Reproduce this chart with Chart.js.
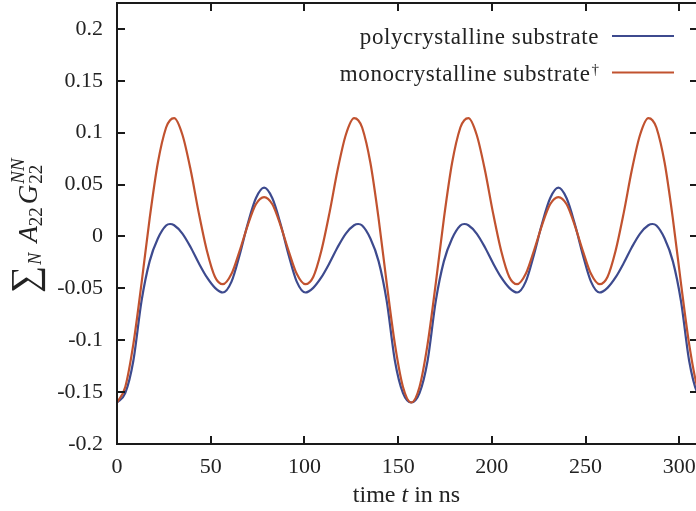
<!DOCTYPE html>
<html><head><meta charset="utf-8">
<script src="https://cdn.jsdelivr.net/npm/chart.js@4.4.1/dist/chart.umd.min.js"></script>
<style>
html,body{margin:0;padding:0;background:#fff;overflow:hidden;width:696px;height:511px;}
#wrap{position:absolute;left:0;top:0;width:720px;height:511px;}
</style></head><body>
<div id="wrap"><canvas id="c"></canvas></div>
<script>
// ---- data ----
const timeNs = [0,4.4,8.7,13.1,17.4,21.8,26.2,28.3,30.5,34.9,39.3,43.6,48.0,52.3,56.5,61.1,65.4,69.8,74.1,78.5,
  82.9,87.2,91.6,95.9,100.5,104.7,109.0,113.4,117.7,122.1,126.5,128.7,130.8,135.2,139.6,143.9,148.3,152.6,157,
  161.4,165.7,170.1,174.4,178.8,183.2,185.3,187.5,191.9,196.3,200.6,205.0,209.3,213.5,218.1,222.4,226.8,231.1,235.5,
  239.9,244.2,248.6,252.9,257.5,261.7,266.0,270.4,274.7,279.1,283.5,285.7,287.8,292.2,296.6,300.9,305.3,309.6,314];
const polycrystalline = [-0.160,-0.151,-0.120,-0.062,-0.024,-0.002,0.0105,0.012,0.0108,0.0028,-0.0104,-0.0256,-0.0395,-0.0495,-0.054,-0.0435,-0.018,0.0125,0.0368,0.047,
  0.0368,0.0125,-0.018,-0.0435,-0.054,-0.0495,-0.0395,-0.0256,-0.0104,0.0028,0.0108,0.012,0.0105,-0.002,-0.024,-0.062,-0.120,-0.151,-0.160,
  -0.151,-0.120,-0.062,-0.024,-0.002,0.0105,0.012,0.0108,0.0028,-0.0104,-0.0256,-0.0395,-0.0495,-0.054,-0.0435,-0.018,0.0125,0.0368,0.047,
  0.0368,0.0125,-0.018,-0.0435,-0.054,-0.0495,-0.0395,-0.0256,-0.0104,0.0028,0.0108,0.012,0.0105,-0.002,-0.024,-0.062,-0.120,-0.151,-0.160];
const monocrystalline = [-0.160,-0.145,-0.104,-0.045,0.017,0.071,0.105,0.112,0.114,0.098,0.064,0.023,-0.014,-0.039,-0.046,-0.036,-0.014,0.011,0.031,0.038,
  0.031,0.011,-0.014,-0.036,-0.046,-0.039,-0.014,0.023,0.064,0.098,0.114,0.112,0.105,0.071,0.017,-0.045,-0.104,-0.145,-0.160,
  -0.145,-0.104,-0.045,0.017,0.071,0.105,0.112,0.114,0.098,0.064,0.023,-0.014,-0.039,-0.046,-0.036,-0.014,0.011,0.031,0.038,
  0.031,0.011,-0.014,-0.036,-0.046,-0.039,-0.014,0.023,0.064,0.098,0.114,0.112,0.105,0.071,0.017,-0.045,-0.104,-0.145,-0.160];
const seriesNames = ['polycrystalline substrate', 'monocrystalline substrate\u2020'];
const xTickValues = [0,50,100,150,200,250,300];
const xTickLabels = ['0','50','100','150','200','250','300'];
const yTickValues = [-0.2,-0.15,-0.1,-0.05,0,0.05,0.1,0.15,0.2];
const yTickLabels = ['-0.2','-0.15','-0.1','-0.05','0','0.05','0.1','0.15','0.2'];

// ---- styling ----
const FONT = '"Liberation Serif", "Times New Roman", serif';
const INK = '#222222';
const BLUE = '#3d4a8e';
const RED = '#c1522f';

const decor = {
  id: 'decor',
  afterDatasetsDraw(chart) {
    const {ctx, chartArea: a, scales: {x, y}} = chart;
    ctx.save();
    // frame
    ctx.strokeStyle = '#1a1a1a';
    ctx.lineWidth = 2;
    ctx.strokeRect(a.left, a.top, a.right - a.left, a.bottom - a.top);
    // inward ticks on all four sides
    const L = 8;
    ctx.beginPath();
    xTickValues.forEach(v => {
      const px = Math.round(x.getPixelForValue(v));
      ctx.moveTo(px, a.bottom); ctx.lineTo(px, a.bottom - L);
      ctx.moveTo(px, a.top); ctx.lineTo(px, a.top + L);
    });
    yTickValues.forEach(v => {
      const py = Math.round(y.getPixelForValue(v));
      ctx.moveTo(a.left, py); ctx.lineTo(a.left + L, py);
      ctx.moveTo(a.right, py); ctx.lineTo(a.right - L, py);
    });
    ctx.stroke();

    // legend (gnuplot style: text right-aligned, sample to the right)
    const rowY = [36, 72.5];
    chart.data.datasets.forEach((ds, i) => {
      const cy = rowY[i];
      let label = ds.label, dag = '';
      if (label.endsWith('\u2020')) { dag = '\u2020'; label = label.slice(0, -1); }
      let right = 599;
      ctx.fillStyle = INK;
      ctx.textBaseline = 'alphabetic';
      if (dag) {
        ctx.font = `15px ${FONT}`;
        const w = ctx.measureText(dag).width;
        ctx.textAlign = 'left';
        ctx.fillText(dag, right - w, cy + 1);
        right -= w + 1;
      }
      ctx.font = `23px ${FONT}`;
      ctx.textAlign = 'right';
      try { ctx.letterSpacing = '0.6px'; } catch (e) {}
      ctx.fillText(label, right, cy + 8);
      try { ctx.letterSpacing = '0px'; } catch (e) {}
      ctx.strokeStyle = ds.borderColor;
      ctx.lineWidth = 2;
      ctx.beginPath();
      ctx.moveTo(612, cy); ctx.lineTo(674, cy);
      ctx.stroke();
    });

    // x axis title: time t in ns
    ctx.fillStyle = INK;
    ctx.textBaseline = 'alphabetic';
    ctx.textAlign = 'left';
    const parts = [['time ', `24px ${FONT}`], ['t', `italic 24px ${FONT}`], [' in ns', `24px ${FONT}`]];
    let tw = 0;
    parts.forEach(p => { ctx.font = p[1]; tw += ctx.measureText(p[0]).width; });
    let xx = (a.left + a.right) / 2 - 1 - tw / 2;
    parts.forEach(p => { ctx.font = p[1]; ctx.fillText(p[0], xx, 502); xx += ctx.measureText(p[0]).width; });

    // y axis title: sum_N A_22 G_22^{NN}
    const items = [
      {t: '\u2211', f: `38px ${FONT}`, dy: 0, gap: 1},
      {t: 'N', f: `italic 18px ${FONT}`, dy: 4, gap: 10},
      {t: 'A', f: `italic 27px ${FONT}`, dy: 0},
      {t: '22', f: `19px ${FONT}`, dy: 5, gap: 3},
      {t: 'G', f: `italic 27px ${FONT}`, dy: 0, gap: 1},
      {t: 'NN', f: `italic 19px ${FONT}`, dy: -13, stackWith: {t: '22', f: `19px ${FONT}`, dy: 5}}
    ];
    let total = 0;
    items.forEach(it => {
      ctx.font = it.f; let w = ctx.measureText(it.t).width;
      if (it.stackWith) { ctx.font = it.stackWith.f; w = Math.max(w, ctx.measureText(it.stackWith.t).width); }
      it.w = w; total += w + (it.gap || 0);
    });
    ctx.translate(37, (a.top + a.bottom) / 2 + total / 2 + 2);
    ctx.rotate(-Math.PI / 2);
    let px = 0;
    items.forEach(it => {
      ctx.font = it.f; ctx.fillText(it.t, px, it.dy);
      if (it.stackWith) { ctx.font = it.stackWith.f; ctx.fillText(it.stackWith.t, px, it.stackWith.dy); }
      px += it.w + (it.gap || 0);
    });
    ctx.restore();
  }
};

new Chart(document.getElementById('c'), {
  type: 'line',
  data: {
    datasets: [
      {label: seriesNames[0], data: timeNs.map((t, i) => ({x: t, y: polycrystalline[i]})),
       borderColor: BLUE, borderWidth: 2.2, pointRadius: 0, cubicInterpolationMode: 'monotone', fill: false, order: 2},
      {label: seriesNames[1], data: timeNs.map((t, i) => ({x: t, y: monocrystalline[i]})),
       borderColor: RED, borderWidth: 2.2, pointRadius: 0, cubicInterpolationMode: 'monotone', fill: false, order: 1}
    ]
  },
  options: {
    responsive: true, maintainAspectRatio: false, animation: false, devicePixelRatio: 1,
    events: [],
    layout: {padding: {left: 0, right: 22, top: 3, bottom: 0}},
    plugins: {legend: {display: false}, tooltip: {enabled: false}},
    scales: {
      x: {
        type: 'linear', min: 0, max: 310,
        grid: {display: false, drawTicks: false}, border: {display: false},
        afterBuildTicks: s => { s.ticks = xTickValues.map(v => ({value: v})); },
        afterFit: s => { s.height = 67; s.paddingLeft = 0; s.paddingRight = 0; },
        ticks: {autoSkip: false, maxRotation: 0, padding: 10, color: INK,
                font: {family: FONT, size: 22}, callback: (v, i) => xTickLabels[i]}
      },
      y: {
        type: 'linear', min: -0.2, max: 0.225,
        grid: {display: false, drawTicks: false}, border: {display: false},
        afterBuildTicks: s => { s.ticks = yTickValues.map(v => ({value: v})); },
        afterFit: s => { s.width = 117; s.paddingTop = 0; s.paddingBottom = 0; },
        ticks: {autoSkip: false, padding: 14, color: INK,
                font: {family: FONT, size: 22}, callback: (v, i) => yTickLabels[i]}
      }
    }
  },
  plugins: [decor]
});
</script>
</body></html>
